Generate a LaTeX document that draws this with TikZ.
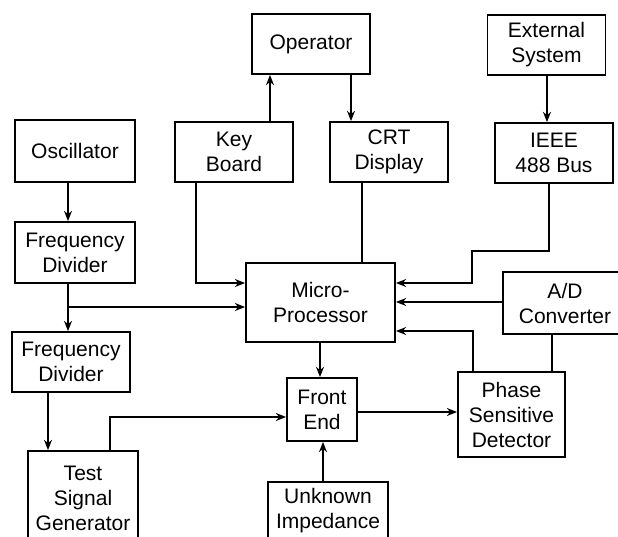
\documentclass[tikz,border=0pt]{standalone}
\usepackage{fontspec}
\setmainfont{Liberation Sans}
\usetikzlibrary{positioning,arrows.meta}

\begin{document}
\begin{tikzpicture}[
    x=0.5pt, y=-0.5pt,
    block/.style={rectangle, draw=black, line width=0.9pt, fill=white,
                  align=center, inner sep=0pt,
                  font=\fontsize{10.5}{12.5}\selectfont},
    unit/.style={block, minimum width=59pt, minimum height=30pt},
    arrow/.style={-{Stealth[length=1.8mm, width=1.4mm]}, line width=0.7pt},
    link/.style={line width=0.7pt}
]
    \clip (0,0) rectangle (618,537);

    \node[block, minimum width=60pt, minimum height=31pt] (osc) at (75,151) {Oscillator};
    \node[block, minimum width=60pt, minimum height=30.5pt] (fd1) at (75,252.5) {Frequency\\Divider};
    \node[unit] (fd2) at (71,362) {Frequency\\Divider};
    \node[block, minimum width=55pt, minimum height=47pt] (tsg) at (83,498) {Test\\Signal\\Generator};
    \node[unit] (kb) at (234,152) {Key\\Board};
    \node[unit] (op) at (311,44) {Operator};
    \node[unit] (crt) at (389,152) {CRT\\Display};
    \node[unit] (ext) at (546.5,45) {External\\System};
    \node[unit] (ieee) at (554,153) {IEEE\\488 Bus};
    \node[block, minimum width=74.5pt, minimum height=39.5pt] (mp) at (320.5,302.5) {Micro-\\Processor};
    \node[block, minimum width=62pt, minimum height=31pt] (ad) at (565,303) {A/D\\Converter};
    \node[block, minimum width=53.5pt, minimum height=42.5pt] (psd) at (511.5,414.5) {Phase\\Sensitive\\Detector};
    \node[block, minimum width=35pt, minimum height=31.5pt] (fe) at (322,409.5) {Front\\End};
    \node[block, minimum width=60pt, minimum height=29pt] (ui) at (328,511) {Unknown\\Impedance};

    \draw[arrow] (osc.south -| 68,0) -- (fd1.north -| 68,0);
    \draw[arrow] (fd1.south -| 68,0) -- (fd2.north -| 68,0);
    \draw[arrow] (fd1.south -| 68,0) |- (mp.west |- 0,307);
    \draw[arrow] (fd2.south -| 48,0) -- (tsg.north -| 48,0);
    \draw[arrow] (tsg.north -| 110,0) |- (fe.west |- 0,417);
    \draw[arrow] (kb.south -| 196,0) |- (mp.west |- 0,283);
    \draw[arrow] (kb.north -| 270,0) -- (op.south -| 270,0);
    \draw[arrow] (op.south -| 351,0) -- (crt.north -| 351,0);
    \draw[link] (crt.south -| 362,0) -- (mp.north -| 362,0);
    \draw[arrow] (ext.south -| 547,0) -- (ieee.north -| 547,0);
    \draw[arrow] (ieee.south -| 549,0) -- (549,251) -- (472,251) -- (472,283) -- (mp.east |- 0,283);
    \draw[arrow] (ad.west |- 0,302) -- (mp.east |- 0,302);
    \draw[arrow] (psd.north -| 473,0) |- (mp.east |- 0,331);
    \draw[link] (psd.north -| 552,0) -- (ad.south -| 552,0);
    \draw[arrow] (mp.south -| 320,0) -- (fe.north -| 320,0);
    \draw[arrow] (fe.east |- 0,412) -- (psd.west |- 0,412);
    \draw[arrow] (ui.north -| 323,0) -- (fe.south -| 323,0);
\end{tikzpicture}
\end{document}
